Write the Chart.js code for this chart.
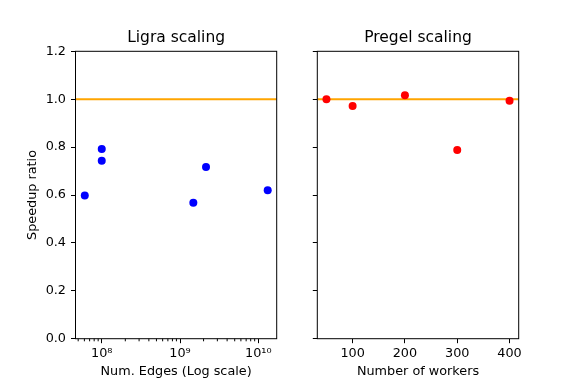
<!DOCTYPE html>
<html>
<head>
<meta charset="utf-8">
<script src="https://cdn.jsdelivr.net/npm/chart.js@4.4.0/dist/chart.umd.min.js"></script>
<style>
  html, body { margin: 0; padding: 0; background: #fff; }
  #wrap { position: relative; width: 572px; height: 384px; }
  canvas { position: absolute; top: 0; }
  #ligra { left: 0; }
  #pregel { left: 290px; }
</style>
</head>
<body>
<div id="wrap">
  <canvas id="ligra" width="290" height="384"></canvas>
  <canvas id="pregel" width="282" height="384"></canvas>
</div>
<script>
// values
const ligraEdges = [6.07e7, 1e8, 1e8, 1.48e9, 2.15e9, 1.32e10];
const ligraSpeedup = [0.598, 0.792, 0.743, 0.568, 0.717, 0.620];
const pregelWorkers = [50, 100, 200, 300, 400];
const pregelSpeedup = [1.0, 0.972, 1.017, 0.788, 0.994];
const baseline = 1.0;

const yTicks = [0, 0.2, 0.4, 0.6, 0.8, 1.0, 1.2];
const ligraTicks = [1e8, 1e9, 1e10];
const ligraTickLabels = ["10⁸", "10⁹", "10¹⁰"];
const pregelTicks = [100, 200, 300, 400];

const ligraRange = [4.62e7, 1.72e10];
const pregelRange = [32.5, 417.5];
const yRange = [0, 1.2];

const FONT = "'DejaVu Sans', sans-serif";
const tickFont = { family: FONT, size: 12.8 };

// box around the axes + short minor ticks for the log axis
const framePlugin = {
    id: "frame",
    afterDraw(chart, args, opts) {
        const { ctx, chartArea: a } = chart;
        ctx.save();
        ctx.strokeStyle = "#000";
        ctx.lineWidth = 1;
        ctx.strokeRect(a.left, a.top, a.right - a.left, a.bottom - a.top);
        if (opts.minor) {
            const xs = chart.scales.x;
            ctx.beginPath();
            for (let e = 7; e <= 10; e++) {
                for (let k = 2; k <= 9; k++) {
                    const v = k * Math.pow(10, e);
                    if (v < xs.min || v > xs.max) continue;
                    const px = xs.getPixelForValue(v);
                    ctx.moveTo(px, a.bottom);
                    ctx.lineTo(px, a.bottom + 2.6);
                }
            }
            ctx.stroke();
        }
        ctx.restore();
    },
};

const makeChart = (id, cfg) => {
    const yScale = {
        min: yRange[0],
        max: yRange[1],
        afterBuildTicks: (s) => { s.ticks = yTicks.map((v) => ({ value: v })); },
        afterFit: (s) => { s.width = cfg.yWidth; },
        border: { display: false },
        grid: { drawOnChartArea: false, tickLength: 4.5, color: "#000", tickWidth: 1 },
        ticks: {
            display: cfg.yLabels,
            color: "#000",
            font: tickFont,
            padding: 5,
            callback: (v) => v.toFixed(1),
        },
        title: {
            display: cfg.yLabels,
            text: "Speedup ratio",
            color: "#000",
            font: tickFont,
            padding: { top: 25, bottom: 0 },
        },
    };

    const xScale = {
        type: cfg.xType,
        min: cfg.xRange[0],
        max: cfg.xRange[1],
        afterBuildTicks: (s) => { s.ticks = cfg.xTicks.map((v) => ({ value: v })); },
        afterFit: (s) => { s.height = 45.3; },
        border: { display: false },
        grid: { drawOnChartArea: false, tickLength: 4.5, color: "#000", tickWidth: 1 },
        ticks: {
            autoSkip: false,
            maxRotation: 0,
            color: "#000",
            font: tickFont,
            padding: 3,
            callback: cfg.xLabel,
        },
        title: {
            display: true,
            text: cfg.xTitle,
            color: "#000",
            font: tickFont,
            padding: { top: 0, bottom: 4.3 },
        },
    };

    return new Chart(document.getElementById(id).getContext("2d"), {
        type: "scatter",
        data: {
            datasets: [
                {
                    data: cfg.xs.map((x, i) => ({ x, y: cfg.ys[i] })),
                    backgroundColor: cfg.color,
                    borderWidth: 0,
                    pointRadius: 4,
                    order: 0,
                },
                {
                    type: "line",
                    data: [{ x: cfg.xRange[0], y: baseline }, { x: cfg.xRange[1], y: baseline }],
                    borderColor: "#ffa500",
                    borderWidth: 2,
                    pointRadius: 0,
                    fill: false,
                    order: 1,
                },
            ],
        },
        options: {
            responsive: false,
            animation: false,
            layout: { padding: { left: 0, right: cfg.rightPad, top: 0, bottom: 0 } },
            plugins: {
                legend: { display: false },
                tooltip: { enabled: false },
                title: {
                    display: true,
                    text: cfg.title,
                    color: "#000",
                    fullSize: false,
                    font: { family: FONT, size: 15.5, weight: "normal" },
                    padding: { top: 28.7, bottom: 4 },
                },
                frame: { minor: cfg.minor },
            },
            scales: { x: xScale, y: yScale },
        },
        plugins: [framePlugin],
    });
};

makeChart("ligra", {
    title: "Ligra scaling",
    xs: ligraEdges,
    ys: ligraSpeedup,
    color: "#0000ff",
    xType: "logarithmic",
    xRange: ligraRange,
    xTicks: ligraTicks,
    xLabel: (v) => ligraTickLabels[ligraTicks.indexOf(v)] ?? "",
    xTitle: "Num. Edges (Log scale)",
    yLabels: true,
    yWidth: 75.5,
    rightPad: 13.3,
    minor: true,
});

makeChart("pregel", {
    title: "Pregel scaling",
    xs: pregelWorkers,
    ys: pregelSpeedup,
    color: "#ff0000",
    xType: "linear",
    xRange: pregelRange,
    xTicks: pregelTicks,
    xLabel: (v) => String(v),
    xTitle: "Number of workers",
    yLabels: false,
    yWidth: 27.3,
    rightPad: 53.3,
    minor: false,
});
</script>
</body>
</html>
